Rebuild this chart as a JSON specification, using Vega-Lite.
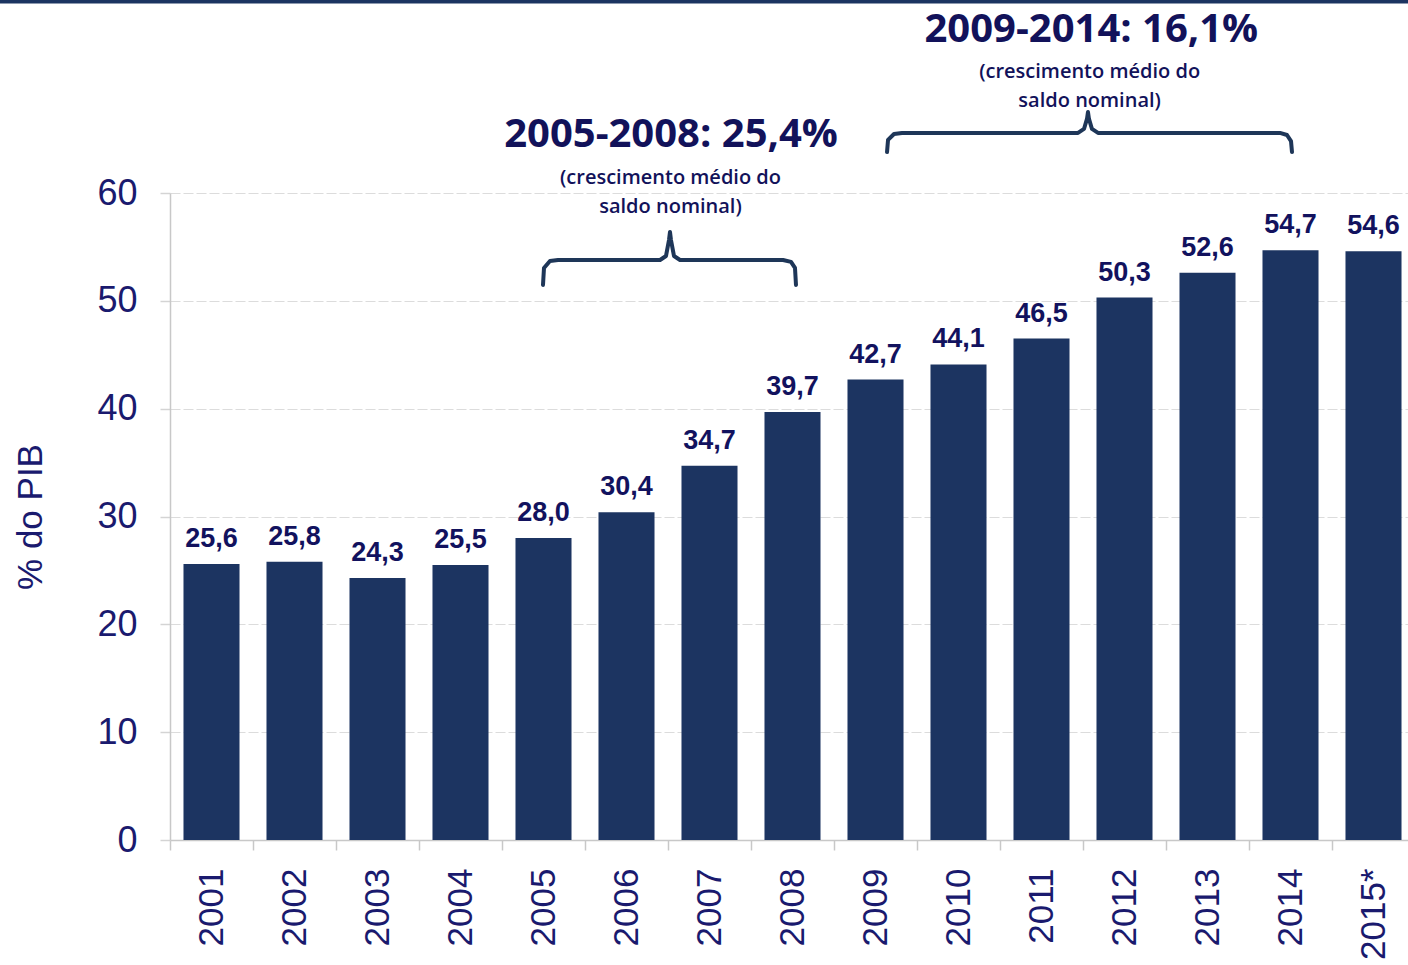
{
  "$schema": "https://vega.github.io/schema/vega-lite/v6.json",
  "width": 1238,
  "height": 647,
  "autosize": {"type": "none"},
  "padding": {"left": 170, "top": 193, "right": 0, "bottom": 125},
  "background": "white",
  "config": {
    "view": {"stroke": null},
    "locale": {"number": {"decimal": ",", "thousands": ".", "grouping": [3], "currency": ["R$", ""]}}
  },
  "data": {"values": [
    {"year": "2001", "pct": 25.6},
    {"year": "2002", "pct": 25.8},
    {"year": "2003", "pct": 24.3},
    {"year": "2004", "pct": 25.5},
    {"year": "2005", "pct": 28.0},
    {"year": "2006", "pct": 30.4},
    {"year": "2007", "pct": 34.7},
    {"year": "2008", "pct": 39.7},
    {"year": "2009", "pct": 42.7},
    {"year": "2010", "pct": 44.1},
    {"year": "2011", "pct": 46.5},
    {"year": "2012", "pct": 50.3},
    {"year": "2013", "pct": 52.6},
    {"year": "2014", "pct": 54.7},
    {"year": "2015*", "pct": 54.6}
  ]},
  "resolve": {"scale": {"x": "independent"}, "axis": {"x": "independent"}},
  "layer": [
    {
      "mark": {"type": "bar", "color": "#1c3461", "width": {"band": 0.675}},
      "encoding": {
        "x": {
          "field": "year", "type": "nominal", "sort": null,
          "scale": {"range": [0, 1245], "paddingInner": 0, "paddingOuter": 0},
          "axis": {
            "title": null, "labelAngle": -90, "labelFontSize": 35, "labelFont": "Liberation Sans",
            "labelColor": "#1a1a6e", "labelPadding": 18, "tickBand": "extent", "tickSize": 10,
            "tickColor": "#c8c8c8", "domainColor": "#c8c8c8", "domainWidth": 1.5, "tickWidth": 1.5,
            "grid": false, "labelBaseline": "middle"
          }
        },
        "y": {
          "field": "pct", "type": "quantitative",
          "scale": {"domain": [0, 60], "nice": false, "zero": true},
          "axis": {
            "title": "% do PIB", "titleFontSize": 35, "titleFont": "Liberation Sans", "titleFontWeight": "normal",
            "titleColor": "#1a1a6e", "titlePadding": 48,
            "values": [0, 10, 20, 30, 40, 50, 60],
            "labelFontSize": 36, "labelFont": "Liberation Sans", "labelColor": "#1a1a6e", "labelPadding": 23,
            "tickSize": 10, "tickColor": "#d4d4d4", "tickWidth": 1.5,
            "domainColor": "#c8c8c8", "domainWidth": 1.5,
            "grid": true, "gridColor": "#dcdcdc", "gridDash": [10, 3], "gridWidth": 1.2
          }
        }
      }
    },
    {
      "mark": {"type": "text", "fontSize": 27, "fontWeight": "bold", "font": "Liberation Sans", "color": "#12125e", "baseline": "alphabetic", "dy": -17},
      "encoding": {
        "x": {"field": "year", "type": "nominal", "sort": null, "scale": {"range": [0, 1245], "paddingInner": 0, "paddingOuter": 0}, "axis": null},
        "y": {"field": "pct", "type": "quantitative", "scale": {"domain": [0, 60], "nice": false}},
        "text": {"field": "pct", "type": "quantitative", "format": ".1f"}
      }
    },
    {
      "data": {"values": [
        {"b": 1, "i": 1, "x": 4.494, "y": 51.47},
        {"b": 1, "i": 2, "x": 4.506, "y": 53.05},
        {"b": 1, "i": 3, "x": 4.578, "y": 53.70},
        {"b": 1, "i": 4, "x": 4.675, "y": 53.79},
        {"b": 1, "i": 5, "x": 5.904, "y": 53.79},
        {"b": 1, "i": 6, "x": 5.976, "y": 54.16},
        {"b": 1, "i": 7, "x": 6.012, "y": 55.64},
        {"b": 1, "i": 8, "x": 6.024, "y": 56.38},
        {"b": 1, "i": 9, "x": 6.036, "y": 55.64},
        {"b": 1, "i": 10, "x": 6.072, "y": 54.16},
        {"b": 1, "i": 11, "x": 6.145, "y": 53.79},
        {"b": 1, "i": 12, "x": 7.386, "y": 53.79},
        {"b": 1, "i": 13, "x": 7.482, "y": 53.61},
        {"b": 1, "i": 14, "x": 7.530, "y": 53.05},
        {"b": 1, "i": 15, "x": 7.542, "y": 51.47},
        {"b": 2, "i": 1, "x": 8.639, "y": 63.80},
        {"b": 2, "i": 2, "x": 8.651, "y": 64.92},
        {"b": 2, "i": 3, "x": 8.723, "y": 65.47},
        {"b": 2, "i": 4, "x": 8.819, "y": 65.57},
        {"b": 2, "i": 5, "x": 10.940, "y": 65.57},
        {"b": 2, "i": 6, "x": 11.012, "y": 65.94},
        {"b": 2, "i": 7, "x": 11.048, "y": 66.87},
        {"b": 2, "i": 8, "x": 11.060, "y": 67.51},
        {"b": 2, "i": 9, "x": 11.072, "y": 66.87},
        {"b": 2, "i": 10, "x": 11.108, "y": 65.94},
        {"b": 2, "i": 11, "x": 11.181, "y": 65.57},
        {"b": 2, "i": 12, "x": 13.373, "y": 65.57},
        {"b": 2, "i": 13, "x": 13.458, "y": 65.38},
        {"b": 2, "i": 14, "x": 13.506, "y": 64.82},
        {"b": 2, "i": 15, "x": 13.518, "y": 63.80}
      ]},
      "mark": {"type": "line", "color": "#1e3658", "strokeWidth": 4, "strokeCap": "round", "strokeJoin": "round", "clip": false},
      "encoding": {
        "x": {"field": "x", "type": "quantitative", "scale": {"domain": [0, 15], "range": [0, 1245], "nice": false, "zero": false}, "axis": null},
        "y": {"field": "y", "type": "quantitative", "scale": {"domain": [0, 60], "nice": false}},
        "detail": {"field": "b", "type": "nominal"},
        "order": {"field": "i", "type": "quantitative"}
      }
    },
    {
      "data": {"values": [
        {"x1": -2.05, "x2": 15.2, "y": 77.76}
      ]},
      "mark": {"type": "rule", "color": "#1c3461", "strokeWidth": 4, "clip": false},
      "encoding": {
        "x": {"field": "x1", "type": "quantitative", "scale": {"domain": [0, 15], "range": [0, 1245], "nice": false, "zero": false}, "axis": null},
        "x2": {"field": "x2"},
        "y": {"field": "y", "type": "quantitative", "scale": {"domain": [0, 60], "nice": false}}
      }
    },
    {
      "data": {"values": [
        {"x": 6.036, "y": 65.38, "t": "2005-2008: 25,4%"},
        {"x": 11.10, "y": 75.12, "t": "2009-2014: 16,1%"}
      ]},
      "mark": {"type": "text", "font": "Open Sans", "fontSize": 40, "fontWeight": "bold", "color": "#12125a", "baseline": "middle", "align": "center", "clip": false},
      "encoding": {
        "x": {"field": "x", "type": "quantitative", "scale": {"domain": [0, 15], "range": [0, 1245], "nice": false, "zero": false}, "axis": null},
        "y": {"field": "y", "type": "quantitative", "scale": {"domain": [0, 60], "nice": false}},
        "text": {"field": "t", "type": "nominal"}
      }
    },
    {
      "data": {"values": [
        {"x": 6.03, "y": 61.39, "t": "(crescimento médio do"},
        {"x": 6.03, "y": 58.70, "t": "saldo nominal)"},
        {"x": 11.08, "y": 71.22, "t": "(crescimento médio do"},
        {"x": 11.08, "y": 68.53, "t": "saldo nominal)"}
      ]},
      "mark": {"type": "text", "font": "Open Sans", "fontSize": 20, "fontWeight": 600, "color": "#12125a", "baseline": "middle", "align": "center", "clip": false},
      "encoding": {
        "x": {"field": "x", "type": "quantitative", "scale": {"domain": [0, 15], "range": [0, 1245], "nice": false, "zero": false}, "axis": null},
        "y": {"field": "y", "type": "quantitative", "scale": {"domain": [0, 60], "nice": false}},
        "text": {"field": "t", "type": "nominal"}
      }
    }
  ]
}
